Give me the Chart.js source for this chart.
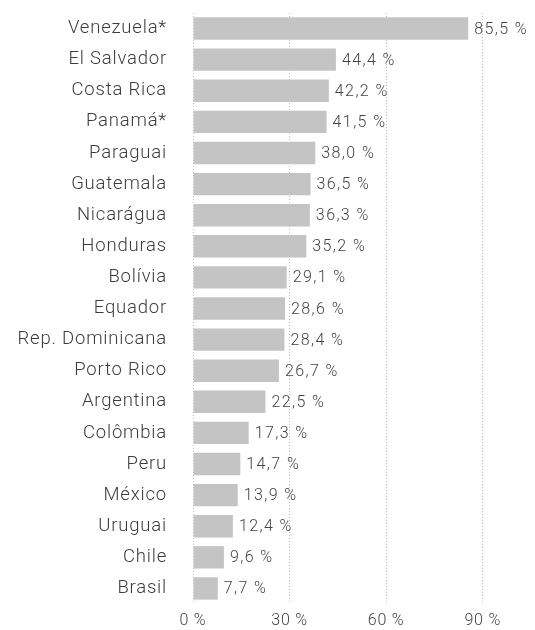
<!DOCTYPE html>
<html>
<head>
<meta charset="utf-8">
<script src="https://cdn.jsdelivr.net/npm/chart.js@4/dist/chart.umd.min.js"></script>
<style>
  html, body { margin: 0; padding: 0; background: #fff; }
  #wrap { width: 535px; height: 630px; position: relative; }
</style>
</head>
<body>
<div id="wrap"><canvas id="chart"></canvas></div>
<script>
// Chart data
const countries = ['Venezuela*', 'El Salvador', 'Costa Rica', 'Panamá*', 'Paraguai', 'Guatemala',
    'Nicarágua', 'Honduras', 'Bolívia', 'Equador', 'Rep. Dominicana', 'Porto Rico',
    'Argentina', 'Colômbia', 'Peru', 'México', 'Uruguai', 'Chile', 'Brasil'];
const values = [85.5, 44.4, 42.2, 41.5, 38.0, 36.5, 36.3, 35.2, 29.1, 28.6, 28.4, 26.7,
    22.5, 17.3, 14.7, 13.9, 12.4, 9.6, 7.7];
const tickValues = [0, 30, 60, 90];

function formatPercent(v) {
    return v.toFixed(1).replace('.', ',') + ' %';
}

// Wider letter spacing for all axis text
const spacing = {
    id: 'spacing',
    beforeDraw(chart) { chart.ctx.letterSpacing = '0.8px'; },
    afterDraw(chart) { chart.ctx.letterSpacing = '0px'; }
};

// Draw value labels after each bar
const valueLabels = {
    id: 'valueLabels',
    afterDatasetsDraw(chart) {
        const ctx = chart.ctx;
        const meta = chart.getDatasetMeta(0);
        ctx.save();
        ctx.font = '300 16px "Roboto", sans-serif';
        ctx.letterSpacing = '1.4px';
        ctx.fillStyle = '#444';
        ctx.textAlign = 'left';
        ctx.textBaseline = 'middle';
        meta.data.forEach((bar, i) => {
            ctx.fillText(formatPercent(values[i]), bar.x + 6, bar.y + 1);
        });
        ctx.restore();
    }
};

new Chart(document.getElementById('chart').getContext('2d'), {
    type: 'bar',
    data: {
        labels: countries,
        datasets: [{
            data: values,
            backgroundColor: '#c4c4c4',
            borderWidth: 0,
            barPercentage: 0.72,
            categoryPercentage: 1.0
        }]
    },
    plugins: [spacing, valueLabels],
    options: {
        indexAxis: 'y',
        responsive: true,
        maintainAspectRatio: false,
        animation: false,
        layout: { padding: { top: 13, right: 4, left: 0, bottom: 0 } },
        plugins: {
            legend: { display: false },
            tooltip: { enabled: false }
        },
        scales: {
            x: {
                min: 0,
                max: 105,
                afterBuildTicks: function(axis) {
                    axis.ticks = tickValues.map(v => ({ value: v }));
                },
                afterFit: function(axis) {
                    axis.height = 26;
                    axis.paddingLeft = 0;
                    axis.paddingRight = 0;
                },
                grid: {
                    color: '#bdbdbd',
                    lineWidth: 1,
                    drawTicks: false
                },
                border: { display: false, dash: [1, 2] },
                ticks: {
                    color: '#444',
                    padding: 7,
                    font: { size: 16, weight: '300', family: '"Roboto", sans-serif' },
                    callback: function(value) { return value + ' %'; }
                }
            },
            y: {
                afterFit: function(axis) {
                    axis.width = 193;
                    axis.paddingTop = 0;
                    axis.paddingBottom = 0;
                },
                grid: { display: false, drawTicks: false },
                border: { display: false },
                ticks: {
                    color: '#3c3c3c',
                    padding: 26,
                    font: { size: 18.5, weight: '300', family: '"Roboto", "DejaVu Sans", sans-serif' }
                }
            }
        }
    }
});
</script>
</body>
</html>
